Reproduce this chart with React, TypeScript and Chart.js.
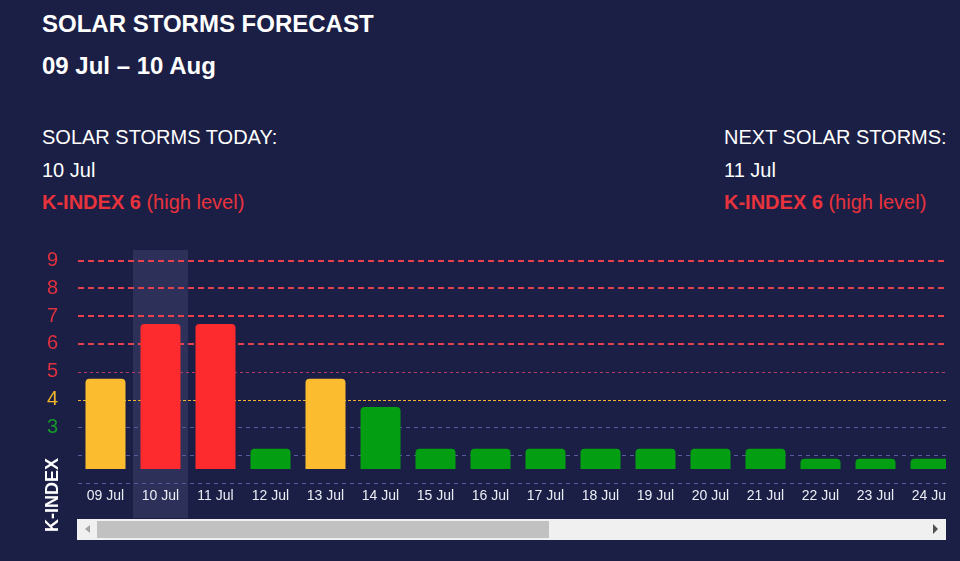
import React, { useEffect, useRef } from 'react';
import { Chart, registerables } from 'chart.js';

Chart.register(...registerables);

// ---- data ----
const days = [
  '09 Jul', '10 Jul', '11 Jul', '12 Jul', '13 Jul', '14 Jul', '15 Jul', '16 Jul',
  '17 Jul', '18 Jul', '19 Jul', '20 Jul', '21 Jul', '22 Jul', '23 Jul', '24 Jul',
];
// bar tops as read on the K-INDEX axis
const barTops = [4.75, 6.72, 6.72, 2.23, 4.75, 3.73, 2.23, 2.23, 2.23, 2.23, 2.23, 2.23, 2.23, 1.87, 1.87, 1.87];
const barBase = 1.5;
const yGridValues = [1, 2, 3, 4, 5, 6, 7, 8, 9];
const yLabelValues = [3, 4, 5, 6, 7, 8, 9];
const todayLabel = '10 Jul';

const FONT = "'Liberation Sans', Arial, sans-serif";
const BG = '#1b1f45';
const BAND = '#2d3058';
const RED = '#fd2b2d';
const YELLOW = '#fbbd2f';
const GREEN = '#049e12';
const LABEL_RED = '#e0303e';
const LABEL_YELLOW = '#f2b52b';
const LABEL_GREEN = '#17982a';
const TEXT_RED = '#e8323c';

function barColor(v: number) {
  if (v >= 6) return RED;
  if (v >= 4.5) return YELLOW;
  return GREEN;
}
function labelColor(v: number) {
  if (v >= 5) return LABEL_RED;
  if (v >= 4) return LABEL_YELLOW;
  return LABEL_GREEN;
}
function lineStyle(v: number) {
  if (v >= 6) return { color: '#e8404c', width: 2, dash: [6, 4] };
  if (v === 5) return { color: '#b83a60', width: 1, dash: [3, 3] };
  if (v === 4) return { color: '#f0b22e', width: 1, dash: [3, 2] };
  return { color: '#575c9c', width: 1, dash: [4, 4] };
}

const bandPlugin = {
  id: 'todayBand',
  beforeDraw(chart: any) {
    const { ctx, chartArea, scales } = chart;
    const xs = scales.x;
    const i = days.indexOf(todayLabel);
    if (i < 0) return;
    const w = xs.getPixelForValue(1) - xs.getPixelForValue(0);
    const cx = xs.getPixelForValue(i);
    ctx.save();
    ctx.fillStyle = BAND;
    ctx.fillRect(cx - w / 2, chartArea.top, w, chart.height - chartArea.top);
    ctx.restore();
  },
};

const gridPlugin = {
  id: 'levelGrid',
  beforeDatasetsDraw(chart: any) {
    const { ctx, chartArea, scales } = chart;
    const ys = scales.y;
    ctx.save();
    yGridValues.forEach((v) => {
      const s = lineStyle(v);
      let y = ys.getPixelForValue(v);
      y = s.width === 1 ? Math.round(y) + 0.5 : Math.round(y);
      ctx.strokeStyle = s.color;
      ctx.lineWidth = s.width;
      ctx.setLineDash(s.dash);
      ctx.beginPath();
      ctx.moveTo(chartArea.left, y);
      ctx.lineTo(chartArea.right, y);
      ctx.stroke();
    });
    ctx.restore();
  },
};

function StormChart() {
  const ref = useRef<HTMLCanvasElement | null>(null);
  useEffect(() => {
    if (!ref.current) return;
    const chart = new Chart(ref.current, {
      type: 'bar',
      data: {
        labels: days,
        datasets: [
          {
            data: barTops,
            base: barBase,
            backgroundColor: barTops.map(barColor),
            borderWidth: 0,
            borderSkipped: 'start',
            borderRadius: { topLeft: 4, topRight: 4, bottomLeft: 0, bottomRight: 0 },
            barPercentage: 40 / 55,
            categoryPercentage: 1,
          } as any,
        ],
      },
      options: {
        animation: false,
        responsive: false,
        maintainAspectRatio: false,
        layout: { padding: { top: 10, left: 0, right: 0, bottom: 0 } },
        plugins: { legend: { display: false }, tooltip: { enabled: false } },
        scales: {
          x: {
            grid: { display: false, drawTicks: false },
            border: { display: false },
            ticks: {
              color: '#eceef6',
              font: { family: FONT, size: 14 },
              padding: 5,
              maxRotation: 0,
              autoSkip: false,
            },
            afterFit: (s: any) => {
              s.height = 35;
              s.paddingLeft = 0;
              s.paddingRight = 0;
            },
          },
          y: {
            min: 1,
            max: 9.38,
            grid: { display: false, drawTicks: false },
            border: { display: false },
            afterFit: (s: any) => {
              s.width = 78;
              s.paddingTop = 0;
              s.paddingBottom = 0;
            },
            afterBuildTicks: (s: any) => {
              s.ticks = yGridValues.map((v) => ({ value: v }));
            },
            ticks: {
              padding: 20,
              font: { family: FONT, size: 20 },
              color: (c: any) => labelColor(c.tick.value),
              callback: (v: any) => (yLabelValues.includes(Number(v)) ? String(v) : ''),
            },
          },
        },
      } as any,
      plugins: [bandPlugin, gridPlugin],
    });
    return () => chart.destroy();
  }, []);
  return (
    <canvas
      ref={ref}
      width={958}
      height={278}
      style={{ display: 'block', width: 958, height: 278 }}
    />
  );
}

const abs = (extra: React.CSSProperties): React.CSSProperties => ({
  position: 'absolute',
  whiteSpace: 'nowrap',
  lineHeight: 1,
  fontFamily: FONT,
  ...extra,
});

export default function App() {
  return (
    <div
      style={{
        position: 'fixed',
        left: 0,
        top: 0,
        width: 960,
        height: 561,
        background: BG,
        overflow: 'hidden',
        fontFamily: FONT,
        color: '#ffffff',
      }}
    >
      <div style={abs({ left: 42, top: 12, fontSize: 24, fontWeight: 700 })}>SOLAR STORMS FORECAST</div>
      <div style={abs({ left: 42, top: 54, fontSize: 24, fontWeight: 700 })}>09 Jul – 10 Aug</div>

      <div style={abs({ left: 42, top: 127, fontSize: 20 })}>SOLAR STORMS TODAY:</div>
      <div style={abs({ left: 42, top: 160, fontSize: 20 })}>10 Jul</div>
      <div style={abs({ left: 42, top: 192, fontSize: 20, color: TEXT_RED })}>
        <b>K-INDEX 6</b> (high level)
      </div>

      <div style={abs({ left: 724, top: 127, fontSize: 20 })}>NEXT SOLAR STORMS:</div>
      <div style={abs({ left: 724, top: 160, fontSize: 20 })}>11 Jul</div>
      <div style={abs({ left: 724, top: 192, fontSize: 20, color: TEXT_RED })}>
        <b>K-INDEX 6</b> (high level)
      </div>

      <div style={{ position: 'absolute', left: 0, top: 240, width: 946, height: 278, overflow: 'hidden' }}>
        <StormChart />
      </div>

      <div
        style={abs({
          left: 52,
          top: 495,
          fontSize: 18,
          fontWeight: 700,
          transform: 'translate(-50%, -50%) rotate(-90deg)',
        })}
      >
        K-INDEX
      </div>

      {/* scrollbar */}
      <div style={{ position: 'absolute', left: 77, top: 519, width: 869, height: 21, background: '#f0f0f0' }} />
      <div style={{ position: 'absolute', left: 97, top: 521, width: 452, height: 17, background: '#c1c1c1' }} />
      <div
        style={{
          position: 'absolute',
          left: 85,
          top: 525,
          width: 0,
          height: 0,
          borderTop: '4.5px solid transparent',
          borderBottom: '4.5px solid transparent',
          borderRight: '5px solid #a3a3a3',
        }}
      />
      <div
        style={{
          position: 'absolute',
          left: 933,
          top: 524,
          width: 0,
          height: 0,
          borderTop: '5px solid transparent',
          borderBottom: '5px solid transparent',
          borderLeft: '5px solid #505050',
        }}
      />
    </div>
  );
}
